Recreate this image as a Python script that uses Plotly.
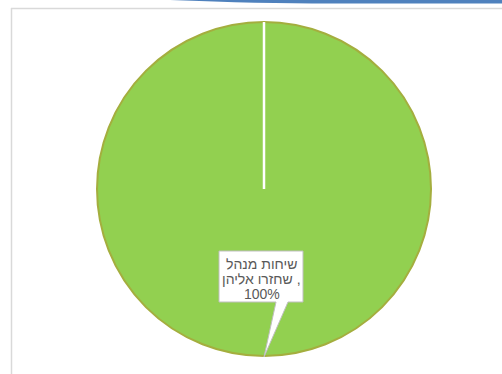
import plotly.graph_objects as go

labels = ["שיחות מנהל שחזרו אליהן"]
values = [100]
label_lines = ["שיחות מנהל", "שחזרו אליהן ,", "100%"]

W, H = 502, 374

def px(x):
    return x / W

def py(y):
    return 1 - y / H

cx, cy, r = 264, 189, 167

fig = go.Figure()
fig.add_trace(go.Pie(
    labels=labels,
    values=values,
    sort=False,
    direction="clockwise",
    rotation=0,
    textinfo="none",
    hoverinfo="label+percent",
    marker=dict(colors=["#92D050"], line=dict(color="#A4AE3E", width=2)),
    domain=dict(x=[px(cx - r), px(cx + r)], y=[py(cy + r), py(cy - r)]),
    showlegend=False,
))

shapes = []
# frame lines
shapes.append(dict(type="line", xref="paper", yref="paper",
                   x0=px(11), y0=py(8.5), x1=px(502), y1=py(8.5),
                   line=dict(color="#D9D9D9", width=1.5)))
shapes.append(dict(type="line", xref="paper", yref="paper",
                   x0=px(11.5), y0=py(8), x1=px(11.5), y1=py(374),
                   line=dict(color="#D9D9D9", width=1.5)))
# top blue decoration
shapes.append(dict(type="path", xref="paper", yref="paper",
                   path=f"M {px(170)},{py(0)} Q {px(260)},{py(3.5)} {px(330)},{py(3.5)} L {px(502)},{py(3.5)} L {px(502)},{py(0)} Z",
                   fillcolor="#4F81BD", line=dict(width=0)))
# white slice boundary
shapes.append(dict(type="line", xref="paper", yref="paper",
                   x0=px(cx), y0=py(cy - r), x1=px(cx), y1=py(cy),
                   line=dict(color="#FFFFFF", width=2.5)))
# callout box with pointer
bx0, bx1, by0, by1 = 219, 303, 251, 302
wx0, wx1 = 276, 288
tipx, tipy = 264, 357
path = (f"M {px(bx0)},{py(by0)} L {px(bx1)},{py(by0)} L {px(bx1)},{py(by1)} "
        f"L {px(wx1)},{py(by1)} L {px(tipx)},{py(tipy)} L {px(wx0)},{py(by1)} "
        f"L {px(bx0)},{py(by1)} Z")
shapes.append(dict(type="path", xref="paper", yref="paper", path=path,
                   fillcolor="#FFFFFF", line=dict(color="#BFBFBF", width=1)))

line_y = [264, 279, 293.5]
annotations = [dict(
    x=px(261.5), y=py(yy), xref="paper", yref="paper",
    text=t, showarrow=False,
    font=dict(family="Liberation Sans, Arial, DejaVu Sans", size=14, color="#595959"),
    align="center", xanchor="center", yanchor="middle",
) for t, yy in zip(label_lines, line_y)]

fig.update_layout(
    width=W, height=H,
    margin=dict(l=0, r=0, t=0, b=0),
    paper_bgcolor="#FFFFFF",
    plot_bgcolor="#FFFFFF",
    shapes=shapes,
    annotations=annotations,
)

fig.write_html("out.html", config={"displayModeBar": False},
               post_script="document.body.style.margin='0';")
